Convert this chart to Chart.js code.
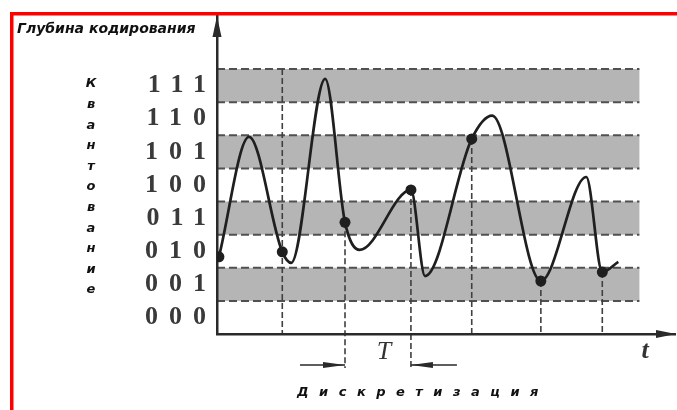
<!DOCTYPE html>
<html>
<head>
<meta charset="utf-8">
<script src="https://cdn.jsdelivr.net/npm/chart.js@4.4.0/dist/chart.umd.min.js"></script>
<style>
html, body { margin: 0; padding: 0; background: #fff; }
</style>
</head>
<body>
<canvas id="chart" width="677" height="410"></canvas>
<script>
// quantization levels (each band is one unit on the y scale)
const levelCodes = ['000', '001', '010', '011', '100', '101', '110', '111'];
const grayLevels = [1, 3, 5, 7];
const bandEnd = 6.6;

// the analog signal, t in sampling periods
const curveT = [0.03, 0.5, 1.02, 1.16, 1.69, 2.0, 2.23, 3.03, 3.25, 3.98, 4.3, 5.06, 5.77, 6.02, 6.27];
const curveV = [2.33, 5.95, 2.48, 2.15, 7.7, 3.37, 2.54, 4.35, 1.75, 5.89, 6.59, 1.6, 4.74, 1.87, 2.18];

// sampled points
const sampleT = [0.03, 1.02, 2.0, 3.03, 3.98, 5.06, 6.02];
const sampleV = [2.33, 2.48, 3.37, 4.35, 5.89, 1.6, 1.87];
const fullLineSample = 1;
const periodFrom = 2;
const periodTo = 3;

const ink = '#1f1f1f';

function arrowHead(ctx, tipX, tipY, dx, dy, len, half) {
    ctx.beginPath();
    ctx.moveTo(tipX, tipY);
    ctx.lineTo(tipX - dx * len - dy * half, tipY - dy * len - dx * half);
    ctx.lineTo(tipX - dx * len + dy * half, tipY - dy * len + dx * half);
    ctx.closePath();
    ctx.fill();
}

const drawing = {
    id: 'drawing',
    beforeDraw(chart) {
        const { ctx, scales: { x, y } } = chart;
        const x0 = x.getPixelForValue(0);
        const x1 = x.getPixelForValue(bandEnd);
        ctx.save();
        ctx.fillStyle = '#b5b5b5';
        grayLevels.forEach(l => {
            const top = y.getPixelForValue(l + 1);
            const bot = y.getPixelForValue(l);
            ctx.fillRect(x0, top, x1 - x0, bot - top);
        });
        ctx.strokeStyle = '#505050';
        ctx.lineWidth = 2;
        ctx.setLineDash([8, 4]);
        for (let l = 1; l <= levelCodes.length; l++) {
            const py = y.getPixelForValue(l);
            ctx.beginPath();
            ctx.moveTo(x0, py);
            ctx.lineTo(x1, py);
            ctx.stroke();
        }
        ctx.strokeStyle = '#404040';
        ctx.lineWidth = 1.6;
        ctx.setLineDash([6, 3]);
        sampleT.forEach((t, i) => {
            if (i === 0) return;
            const px = x.getPixelForValue(t);
            const top = y.getPixelForValue(i === fullLineSample ? levelCodes.length : sampleV[i]);
            let bot = y.getPixelForValue(0);
            if (i === periodFrom || i === periodTo) bot += 34;
            ctx.beginPath();
            ctx.moveTo(px, top);
            ctx.lineTo(px, bot);
            ctx.stroke();
        });
        ctx.restore();
        ctx.letterSpacing = '11px';
    },
    beforeDatasetsDraw(chart) {
        chart.ctx.letterSpacing = '0px';
    },
    afterDraw(chart) {
        const { ctx, chartArea: a, scales: { x } } = chart;
        ctx.save();
        ctx.fillStyle = '#2a2a2a';
        arrowHead(ctx, a.left, a.top, 0, -1, 21, 4.5);
        arrowHead(ctx, a.right + 1, a.bottom, 1, 0, 20, 4);

        // sampling period
        const p1 = x.getPixelForValue(sampleT[periodFrom]);
        const p2 = x.getPixelForValue(sampleT[periodTo]);
        const ty = a.bottom + 31;
        ctx.strokeStyle = '#2a2a2a';
        ctx.lineWidth = 1.5;
        ctx.beginPath();
        ctx.moveTo(p1 - 45, ty);
        ctx.lineTo(p1, ty);
        ctx.moveTo(p2, ty);
        ctx.lineTo(p2 + 46, ty);
        ctx.stroke();
        arrowHead(ctx, p1, ty, 1, 0, 22, 3);
        arrowHead(ctx, p2, ty, -1, 0, 22, 3);

        ctx.fillStyle = '#333';
        ctx.textAlign = 'center';
        ctx.textBaseline = 'middle';
        ctx.font = 'italic 26px "Liberation Serif"';
        ctx.fillText('T', (p1 + p2) / 2 + 6, a.bottom + 18);
        ctx.font = 'italic bold 26px "Liberation Serif"';
        ctx.fillText('t', 645, a.bottom + 17);

        ctx.fillStyle = '#111';
        ctx.font = 'italic bold 14px "DejaVu Sans"';
        ctx.textAlign = 'left';
        ctx.fillText('Глубина кодирования', 17, 29);

        ctx.font = 'italic bold 13px "DejaVu Sans"';
        ctx.textAlign = 'center';
        'Квантование'.split('').forEach((ch, i) => {
            ctx.fillText(ch, 91, 84 + i * 20.6);
        });
        ctx.textAlign = 'left';
        ctx.letterSpacing = '10.5px';
        ctx.fillText('Дискретизация', 297, 393);
        ctx.letterSpacing = '0px';

        ctx.fillStyle = '#ff0000';
        ctx.fillRect(10, 12, 667, 3.5);
        ctx.fillRect(10, 12, 3.5, 398);
        ctx.restore();
    }
};

new Chart(document.getElementById('chart'), {
    type: 'line',
    data: {
        datasets: [{
            data: curveT.map((t, i) => ({ x: t, y: curveV[i] })),
            borderColor: ink,
            borderWidth: 2.7,
            pointRadius: 0,
            cubicInterpolationMode: 'monotone',
            fill: false
        }, {
            data: sampleT.map((t, i) => ({ x: t, y: sampleV[i] })),
            showLine: false,
            pointRadius: 5.5,
            pointBackgroundColor: ink,
            pointBorderWidth: 0
        }]
    },
    options: {
        responsive: false,
        animation: false,
        layout: { autoPadding: false, padding: { top: 16, right: 2, left: 0, bottom: 0 } },
        plugins: { legend: { display: false }, tooltip: { enabled: false } },
        scales: {
            x: {
                type: 'linear',
                min: 0,
                max: 7.156,
                grid: { display: false },
                ticks: { display: false },
                border: { display: true, color: '#2a2a2a', width: 2.5 },
                afterFit: s => { s.height = 76; }
            },
            y: {
                min: 0,
                max: 9.6,
                grid: { display: false, drawTicks: false },
                border: { display: true, color: '#2a2a2a', width: 2.5 },
                afterBuildTicks: s => { s.ticks = levelCodes.map((c, i) => ({ value: i + 0.5 })); },
                ticks: {
                    padding: 0,
                    color: '#3a3a3a',
                    font: { family: 'Liberation Serif', size: 26, weight: 'bold' },
                    callback: (v, i) => levelCodes[i]
                },
                afterFit: s => { s.width = 217; }
            }
        }
    },
    plugins: [drawing]
});
</script>
</body>
</html>
